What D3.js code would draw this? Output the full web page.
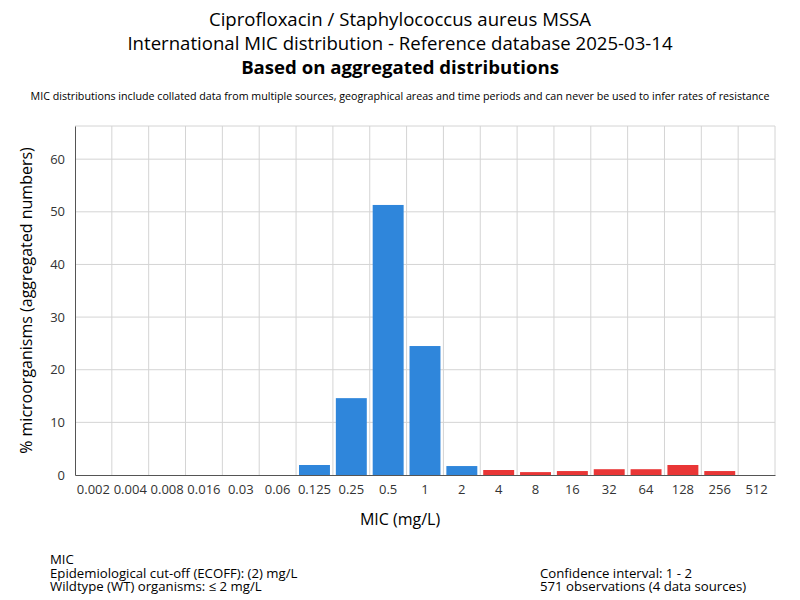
<!DOCTYPE html>
<html lang="en">
  <head>
    <meta charset="utf-8" />
    <title>MIC distribution</title>
    <script type="text/javascript" src="https://d3js.org/d3.v7.min.js"></script>
    <style>
      body { margin: 0; background: #fff; }
      text { font-family: "Open Sans", sans-serif; fill: #000; }
    </style>
  </head>
  <body>
    <script type="text/javascript">
      const WIDTH = 800;
      const HEIGHT = 600;
      const BLUE = "#2f86db";
      const RED = "#e93636";
      const GRID = "#d4d4d4";

      // MIC categories (mg/L) and percentage per category
      const micLabels = ["0.002", "0.004", "0.008", "0.016", "0.03", "0.06", "0.125", "0.25", "0.5", "1",
        "2", "4", "8", "16", "32", "64", "128", "256", "512"];
      const percentages = [0, 0, 0, 0, 0, 0, 1.9, 14.6, 51.3, 24.5, 1.7, 0.95, 0.55, 0.75, 1.1, 1.1, 1.9, 0.75, 0];
      const ecoff = "2"; // categories up to this are wildtype
      const yTicks = [0, 10, 20, 30, 40, 50, 60];
      const yMax = 66.3;

      const titleLines = [
        "Ciprofloxacin / Staphylococcus aureus MSSA",
        "International MIC distribution - Reference database 2025-03-14",
      ];
      const boldTitle = "Based on aggregated distributions";
      const subtitle = "MIC distributions include collated data from multiple sources, geographical areas and time periods and can never be used to infer rates of resistance";
      const footerLeft = ["MIC", "Epidemiological cut-off (ECOFF): (2) mg/L", "Wildtype (WT) organisms: \u2264 2 mg/L"];
      const footerRight = ["Confidence interval: 1 - 2", "571 observations (4 data sources)"];

      const margin = { top: 126, right: 25, bottom: 125, left: 75 };
      const innerW = WIDTH - margin.left - margin.right;
      const innerH = HEIGHT - margin.top - margin.bottom;

      const data = micLabels.map((m, i) => ({ mic: m, val: percentages[i] }));
      const ecoffIndex = micLabels.indexOf(ecoff);

      const svg = d3.select("body").append("svg")
        .attr("width", WIDTH)
        .attr("height", HEIGHT);

      // Titles
      titleLines.forEach((t, i) => {
        svg.append("text")
          .attr("x", WIDTH / 2)
          .attr("y", 26 + i * 24)
          .attr("text-anchor", "middle")
          .style("font-size", "18.6px")
          .text(t);
      });
      svg.append("text")
        .attr("x", WIDTH / 2)
        .attr("y", 74)
        .attr("text-anchor", "middle")
        .style("font-size", "18.6px")
        .style("font-weight", "bold")
        .text(boldTitle);
      svg.append("text")
        .attr("x", WIDTH / 2)
        .attr("y", 100)
        .attr("text-anchor", "middle")
        .style("font-size", "10.7px")
        .text(subtitle);

      const x = d3.scaleBand()
        .domain(micLabels)
        .range([0, innerW])
        .paddingInner(0.16)
        .paddingOuter(0.08);

      const y = d3.scaleLinear()
        .domain([0, yMax])
        .range([innerH, 0]);

      const g = svg.append("g")
        .attr("transform", "translate(" + margin.left + "," + margin.top + ")");

      // Grid: horizontal lines at ticks, vertical lines between categories
      const step = innerW / micLabels.length;
      g.append("g").selectAll("line.h")
        .data(yTicks.slice(1))
        .enter().append("line")
        .attr("x1", 0).attr("x2", innerW)
        .attr("y1", (d) => y(d)).attr("y2", (d) => y(d))
        .attr("stroke", GRID);
      g.append("g").selectAll("line.v")
        .data(d3.range(1, micLabels.length + 1))
        .enter().append("line")
        .attr("x1", (i) => i * step).attr("x2", (i) => i * step)
        .attr("y1", 0).attr("y2", innerH)
        .attr("stroke", GRID);
      g.append("line")
        .attr("x1", 0).attr("x2", innerW)
        .attr("y1", 0).attr("y2", 0)
        .attr("stroke", GRID);

      // Bars
      g.selectAll(".bar")
        .data(data)
        .enter().append("rect")
        .attr("class", "bar")
        .attr("x", (d) => x(d.mic))
        .attr("width", x.bandwidth())
        .attr("y", (d) => y(d.val))
        .attr("height", (d) => innerH - y(d.val))
        .attr("fill", (d, i) => (i <= ecoffIndex ? BLUE : RED));

      // Axes
      const yAxis = g.append("g")
        .call(d3.axisLeft(y).tickValues(yTicks).tickSize(0).tickPadding(10));
      yAxis.select(".domain").attr("stroke", "#555");
      yAxis.selectAll("text").style("font-size", "13px").style("fill", "#333");

      const xAxis = g.append("g")
        .attr("transform", "translate(0," + innerH + ")")
        .call(d3.axisBottom(x).tickSize(0).tickPadding(10));
      xAxis.select(".domain").attr("stroke", "#555");
      xAxis.selectAll("text").style("font-size", "13px").style("fill", "#333");

      // Axis titles
      svg.append("text")
        .attr("transform", "translate(32," + (margin.top + innerH / 2) + ") rotate(-90)")
        .attr("text-anchor", "middle")
        .style("font-size", "16px")
        .text("% microorganisms (aggregated numbers)");
      svg.append("text")
        .attr("x", WIDTH / 2)
        .attr("y", 525)
        .attr("text-anchor", "middle")
        .style("font-size", "16px")
        .text("MIC (mg/L)");

      // Footer notes
      footerLeft.forEach((t, i) => {
        svg.append("text")
          .attr("x", 50)
          .attr("y", 564 + i * 13.5)
          .style("font-size", "13.2px")
          .text(t);
      });
      footerRight.forEach((t, i) => {
        svg.append("text")
          .attr("x", 540)
          .attr("y", 577.5 + i * 13.5)
          .style("font-size", "13.2px")
          .text(t);
      });
    </script>
  </body>
</html>
